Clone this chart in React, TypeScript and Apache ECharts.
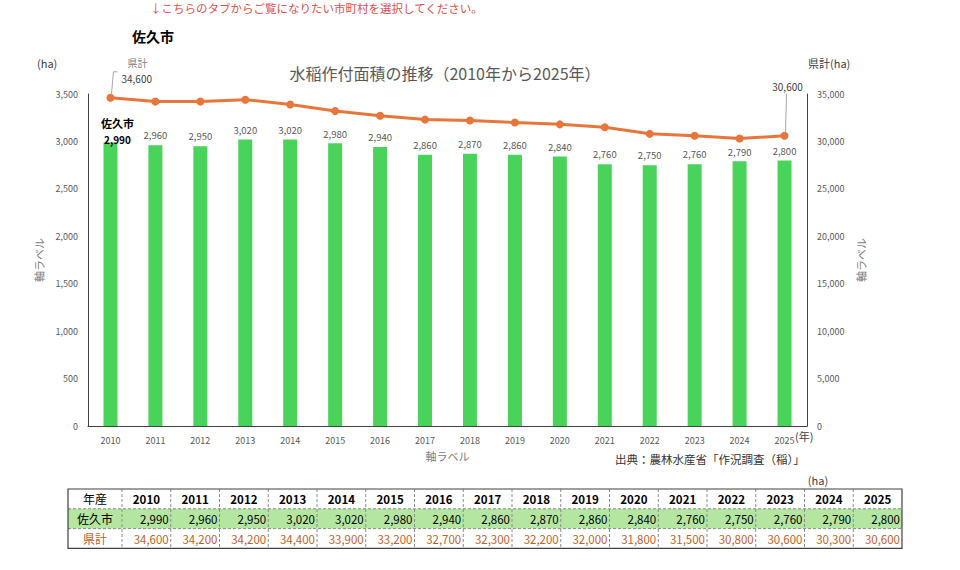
import React, { useEffect, useRef } from "react";
import * as echarts from "echarts";

const years = ["2010","2011","2012","2013","2014","2015","2016","2017","2018","2019","2020","2021","2022","2023","2024","2025"];
const sakuArea = [2990,2960,2950,3020,3020,2980,2940,2860,2870,2860,2840,2760,2750,2760,2790,2800];
const prefTotal = [34600,34200,34200,34400,33900,33200,32700,32300,32200,32000,31800,31500,30800,30600,30300,30600];
const leftTicks = { min: 0, max: 3500, interval: 500 };
const rightTicks = { min: 0, max: 35000, interval: 5000 };

const FONT = "'Noto Sans CJK JP', 'Noto Sans', sans-serif";
const fmt = (v: number) => v.toLocaleString("en-US");

function buildTable() {
  const els: any[] = [];
  const left = 68, top = 489, firstW = 54, colW = 48.75, rowH = 19.8;
  const totalW = firstW + colW * years.length;
  const dark = "#404040";
  const orange = "#C0622A";
  els.push({ type: "rect", shape: { x: left, y: top + rowH, width: totalW, height: rowH }, style: { fill: "#B4E6A2" }, silent: true });
  for (let r = 1; r < 3; r++) {
    els.push({ type: "line", shape: { x1: left, y1: top + rowH * r, x2: left + totalW, y2: top + rowH * r }, style: { stroke: "#8c8c8c", lineWidth: 1, lineDash: [3, 2] }, silent: true });
  }
  for (let c = 0; c < years.length; c++) {
    const x = left + firstW + colW * c;
    els.push({ type: "line", shape: { x1: x, y1: top, x2: x, y2: top + rowH * 3 }, style: { stroke: "#8c8c8c", lineWidth: 1, lineDash: [3, 2] }, silent: true });
  }
  els.push({ type: "rect", shape: { x: left, y: top, width: totalW, height: rowH * 3 }, style: { fill: "none", stroke: dark, lineWidth: 1.2 }, silent: true });
  const heads = [
    { t: "年産", c: "#000" },
    { t: "佐久市", c: "#000" },
    { t: "県計", c: orange },
  ];
  heads.forEach((h, i) => {
    els.push({ type: "text", x: left + firstW / 2, y: top + rowH * i + rowH / 2, style: { text: h.t, fill: h.c, font: `12px ${FONT}`, align: "center", verticalAlign: "middle" }, silent: true });
  });
  years.forEach((y, i) => {
    const x0 = left + firstW + colW * i;
    els.push({ type: "text", x: x0 + colW / 2, y: top + rowH / 2, style: { text: y, fill: "#000", font: `bold 11.5px ${FONT}`, align: "center", verticalAlign: "middle" }, silent: true });
    els.push({ type: "text", x: x0 + colW - 2, y: top + rowH * 1.5, style: { text: fmt(sakuArea[i]), fill: "#000", font: `11.5px ${FONT}`, align: "right", verticalAlign: "middle" }, silent: true });
    els.push({ type: "text", x: x0 + colW - 2, y: top + rowH * 2.5, style: { text: fmt(prefTotal[i]), fill: orange, font: `11.5px ${FONT}`, align: "right", verticalAlign: "middle" }, silent: true });
  });
  els.push({ type: "text", x: 818, y: 480, style: { text: "(ha)", fill: "#404040", font: `11px ${FONT}`, align: "center", verticalAlign: "middle" }, silent: true });
  return els;
}

export default function App() {
  const ref = useRef<HTMLDivElement>(null);
  useEffect(() => {
    document.body.style.margin = "0";
    const chart = echarts.init(ref.current!, null, { renderer: "svg" });
    const last = prefTotal.length - 1;
    const lineData = prefTotal.map((v, i) => {
      if (i === 0) {
        return {
          value: v,
          label: { show: true, formatter: "{k|県計}\n{v|" + fmt(v) + "}", align: "left", rich: { k: { fontSize: 10, color: "#808080", fontFamily: FONT, padding: [0, 0, 0, 6] }, v: { fontSize: 10, color: "#404040", fontFamily: FONT } }, lineHeight: 16 },
        };
      }
      if (i === last) {
        return {
          value: v,
          label: { show: true, formatter: fmt(v), fontSize: 10, color: "#404040", fontFamily: FONT },
        };
      }
      return v;
    });
    const barData = sakuArea.map((v, i) =>
      i === 0
        ? {
            value: v,
            label: {
              formatter: "{n|佐久市}\n{v|" + fmt(v) + "}",
              offset: [7, 9],
              rich: {
                n: { fontSize: 11, fontWeight: "bold", color: "#000", fontFamily: FONT, lineHeight: 18 },
                v: { fontSize: 10, fontWeight: "bold", color: "#000", fontFamily: FONT, lineHeight: 14 },
              },
            },
          }
        : v
    );
    const staticGraphics = [
      { type: "text", left: 150, top: 2, style: { text: "↓こちらのタブからご覧になりたい市町村を選択してください。", fill: "#E0504A", font: `11.5px ${FONT}` } },
      { type: "text", left: 132, top: 29, style: { text: "佐久市", fill: "#000", font: `bold 14px ${FONT}` } },
      { type: "text", left: 37, top: 57, style: { text: "(ha)", fill: "#404040", font: `11px ${FONT}` } },
      { type: "text", left: 808, top: 57, style: { text: "県計(ha)", fill: "#404040", font: `11px ${FONT}` } },
      { type: "text", left: 795, top: 430, style: { text: "(年)", fill: "#404040", font: `11px ${FONT}` } },
      { type: "text", left: 615, top: 453, style: { text: "出典：農林水産省「作況調査（稲）」", fill: "#333", font: `11.5px ${FONT}` } },
      ...buildTable(),
    ];
    chart.setOption({
      animation: false,
      textStyle: { fontFamily: FONT },
      grid: { left: 88, right: 153, top: 94, bottom: 144, containLabel: false },
      title: {
        text: "水稲作付面積の推移（2010年から2025年）",
        left: 440,
        top: 60,
        textAlign: "center",
        textStyle: { fontSize: 16, fontWeight: "normal", color: "#595959", fontFamily: FONT },
      },
      xAxis: {
        type: "category",
        data: years,
        name: "軸ラベル",
        nameLocation: "middle",
        nameGap: 24,
        nameTextStyle: { fontSize: 11, color: "#808080", fontFamily: FONT },
        axisLine: { lineStyle: { color: "#404040", width: 1 } },
        axisTick: { show: false },
        axisLabel: { fontSize: 9, color: "#595959", margin: 10 },
      },
      yAxis: [
        {
          type: "value",
          ...leftTicks,
          name: "軸ラベル",
          nameLocation: "middle",
          nameGap: 41,
          nameRotate: 90,
          nameTextStyle: { fontSize: 11, color: "#808080", fontFamily: FONT },
          axisLine: { show: true, lineStyle: { color: "#404040", width: 1 } },
          axisTick: { show: false },
          splitLine: { show: false },
          axisLabel: { fontSize: 9, color: "#595959", margin: 10 },
        },
        {
          type: "value",
          ...rightTicks,
          position: "right",
          name: "軸ラベル",
          nameLocation: "middle",
          nameGap: 36,
          nameRotate: 90,
          nameTextStyle: { fontSize: 11, color: "#808080", fontFamily: FONT },
          axisLine: { show: true, lineStyle: { color: "#404040", width: 1 } },
          axisTick: { show: false },
          splitLine: { show: false },
          axisLabel: { fontSize: 9, color: "#595959", margin: 10 },
        },
      ],
      series: [
        {
          type: "bar",
          data: barData,
          yAxisIndex: 0,
          barWidth: 14,
          itemStyle: { color: "#4AD35A" },
          label: { show: true, position: "top", distance: 5, fontSize: 9.5, color: "#595959", formatter: (p: any) => fmt(p.value) },
        },
        {
          type: "line",
          data: lineData,
          yAxisIndex: 1,
          symbol: "circle",
          symbolSize: 8,
          lineStyle: { color: "#E8763A", width: 3 },
          itemStyle: { color: "#E8763A" },
          label: { show: false, position: "top" },
          labelLayout: (p: any) => {
            if (p.dataIndex === 0) return { dx: 11, dy: -2 };
            if (p.dataIndex === last) return { dx: 3, dy: -35 };
            return {};
          },
          z: 3,
        },
      ],
      graphic: staticGraphics,
    });
    // leader lines for the two labelled line points, placed via the chart's own scales
    const p0 = chart.convertToPixel({ seriesIndex: 1 }, [0, prefTotal[0]]) as number[];
    const pN = chart.convertToPixel({ seriesIndex: 1 }, [last, prefTotal[last]]) as number[];
    chart.setOption({
      graphic: [
        ...staticGraphics,
        { type: "polyline", shape: { points: [[p0[0] + 1, p0[1] - 4], [p0[0] + 3, p0[1] - 26], [p0[0] + 7, p0[1] - 26]] }, style: { stroke: "#a6a6a6", lineWidth: 1, fill: "none" }, silent: true },
        { type: "line", shape: { x1: pN[0] + 1, y1: pN[1] - 4, x2: pN[0] + 2, y2: pN[1] - 42 }, style: { stroke: "#a6a6a6", lineWidth: 1 }, silent: true },
      ],
    });
    return () => chart.dispose();
  }, []);
  return <div ref={ref} style={{ position: "absolute", left: 0, top: 0, width: 960, height: 570 }} />;
}
